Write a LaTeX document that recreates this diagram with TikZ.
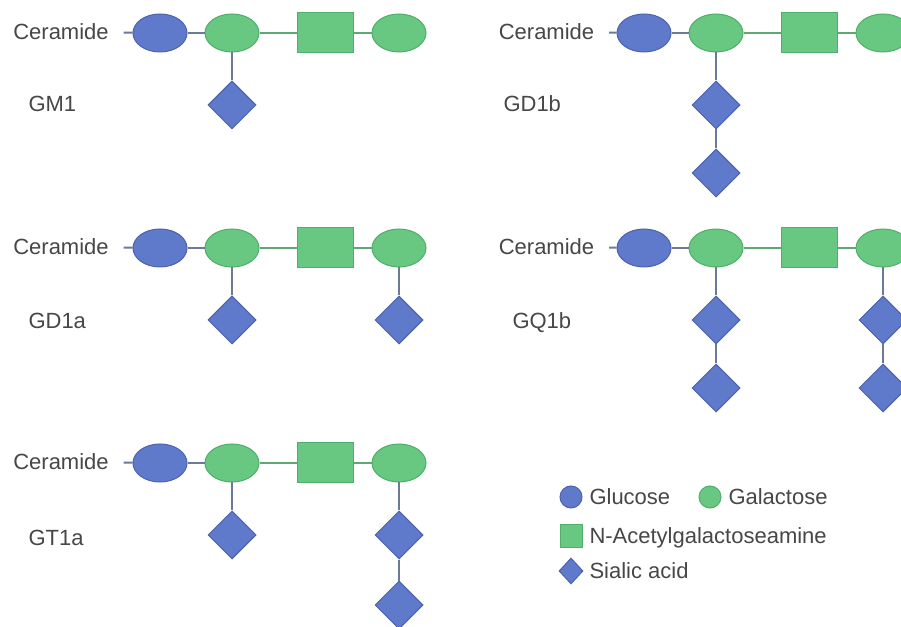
\documentclass[tikz,border=0pt]{standalone}
\usepackage{fontspec}
\setmainfont{Liberation Sans}
\usetikzlibrary{shapes.geometric}
\definecolor{glcblue}{HTML}{5F79CB}
\definecolor{glcedge}{HTML}{4D62AC}
\definecolor{galgreen}{HTML}{68C882}
\definecolor{galedge}{HTML}{4FAE6A}
\definecolor{bondgray}{HTML}{6B7A96}
\definecolor{bondgreen}{HTML}{5EA874}
\definecolor{txtgray}{HTML}{474747}
\tikzstyle{glucose} = [ellipse, minimum width=54pt, minimum height=38pt, inner sep=0pt, draw=glcedge, fill=glcblue]
\tikzstyle{galactose} = [ellipse, minimum width=54pt, minimum height=38pt, inner sep=0pt, draw=galedge, fill=galgreen]
\tikzstyle{galnac} = [rectangle, minimum width=56pt, minimum height=40pt, inner sep=0pt, draw=galedge, fill=galgreen]
\tikzstyle{sialic} = [diamond, minimum width=48pt, minimum height=48pt, inner sep=0pt, draw=glcedge, fill=glcblue]
\tikzstyle{txt} = [inner sep=0pt, text depth=0pt, text=txtgray, font=\fontsize{22}{26}\selectfont]
\tikzstyle{ceramide} = [txt, outer xsep=15pt]
\tikzstyle{bond} = [line width=2pt, draw=bondgray]
\tikzstyle{gbond} = [line width=2pt, draw=bondgreen]

\begin{document}
\begin{tikzpicture}[x=1pt, y=1pt, node distance=72pt, line width=1pt]
\clip (0,0) rectangle (901,626);
\fill[white] (0,0) rectangle (901,626);

\node (cer1) [ceramide] at (61,594) {Ceramide};
\node (glc1) [glucose] at (160,593) {};
\node (gal1) [galactose, right of=glc1] {};
\node (nac1) [galnac, right of=gal1, xshift=21.5pt] {};
\node (ter1) [galactose, right of=nac1, xshift=1.5pt] {};
\node (sia1) [sialic, below of=gal1] {};
\node (lab1) [txt, anchor=west] at (28,522) {GM1};
\draw [bond] (cer1) -- (glc1);
\draw [bond] (glc1) -- (gal1);
\draw [gbond] (gal1) -- (nac1);
\draw [gbond] (nac1) -- (ter1);
\draw [bond] (gal1) -- (sia1);

\node (cer2) [ceramide] at (546.5,594) {Ceramide};
\node (glc2) [glucose] at (644,593) {};
\node (gal2) [galactose, right of=glc2] {};
\node (nac2) [galnac, right of=gal2, xshift=21.5pt] {};
\node (ter2) [galactose, right of=nac2, xshift=1.5pt] {};
\node (sia2) [sialic, below of=gal2] {};
\node (sib2) [sialic, below of=sia2, yshift=4pt] {};
\node (lab2) [txt, anchor=west] at (503,522) {GD1b};
\draw [bond] (cer2) -- (glc2);
\draw [bond] (glc2) -- (gal2);
\draw [gbond] (gal2) -- (nac2);
\draw [gbond] (nac2) -- (ter2);
\draw [bond] (gal2) -- (sia2);
\draw [bond] (sia2) -- (sib2);

\node (cer3) [ceramide] at (61,379) {Ceramide};
\node (glc3) [glucose] at (160,378) {};
\node (gal3) [galactose, right of=glc3] {};
\node (nac3) [galnac, right of=gal3, xshift=21.5pt] {};
\node (ter3) [galactose, right of=nac3, xshift=1.5pt] {};
\node (sia3) [sialic, below of=gal3] {};
\node (sit3) [sialic, below of=ter3] {};
\node (lab3) [txt, anchor=west] at (28,305) {GD1a};
\draw [bond] (cer3) -- (glc3);
\draw [bond] (glc3) -- (gal3);
\draw [gbond] (gal3) -- (nac3);
\draw [gbond] (nac3) -- (ter3);
\draw [bond] (gal3) -- (sia3);
\draw [bond] (ter3) -- (sit3);

\node (cer4) [ceramide] at (546.5,379) {Ceramide};
\node (glc4) [glucose] at (644,378) {};
\node (gal4) [galactose, right of=glc4] {};
\node (nac4) [galnac, right of=gal4, xshift=21.5pt] {};
\node (ter4) [galactose, right of=nac4, xshift=1.5pt] {};
\node (sia4) [sialic, below of=gal4] {};
\node (sib4) [sialic, below of=sia4, yshift=4pt] {};
\node (sit4) [sialic, below of=ter4] {};
\node (siu4) [sialic, below of=sit4, yshift=4pt] {};
\node (lab4) [txt, anchor=west] at (512,305) {GQ1b};
\draw [bond] (cer4) -- (glc4);
\draw [bond] (glc4) -- (gal4);
\draw [gbond] (gal4) -- (nac4);
\draw [gbond] (nac4) -- (ter4);
\draw [bond] (gal4) -- (sia4);
\draw [bond] (sia4) -- (sib4);
\draw [bond] (ter4) -- (sit4);
\draw [bond] (sit4) -- (siu4);

\node (cer5) [ceramide] at (61,164) {Ceramide};
\node (glc5) [glucose] at (160,163) {};
\node (gal5) [galactose, right of=glc5] {};
\node (nac5) [galnac, right of=gal5, xshift=21.5pt] {};
\node (ter5) [galactose, right of=nac5, xshift=1.5pt] {};
\node (sia5) [sialic, below of=gal5] {};
\node (sit5) [sialic, below of=ter5] {};
\node (siu5) [sialic, below of=sit5, yshift=2pt] {};
\node (lab5) [txt, anchor=west] at (28,88) {GT1a};
\draw [bond] (cer5) -- (glc5);
\draw [bond] (glc5) -- (gal5);
\draw [gbond] (gal5) -- (nac5);
\draw [gbond] (nac5) -- (ter5);
\draw [bond] (gal5) -- (sia5);
\draw [bond] (ter5) -- (sit5);
\draw [bond] (sit5) -- (siu5);

\node (kglc) [glucose, minimum width=22pt, minimum height=22pt] at (571,129) {};
\node (tglc) [txt, anchor=west] at (589,129) {Glucose};
\node (kgal) [galactose, minimum width=22pt, minimum height=22pt] at (710,129) {};
\node (tgal) [txt, anchor=west] at (728,129) {Galactose};
\node (knac) [galnac, minimum width=22pt, minimum height=22pt] at (571,90) {};
\node (tnac) [txt, anchor=west] at (589,90) {N-Acetylgalactoseamine};
\node (ksia) [sialic, minimum width=24pt, minimum height=26pt] at (571,55) {};
\node (tsia) [txt, anchor=west] at (589,55) {Sialic acid};

\end{tikzpicture}
\end{document}
